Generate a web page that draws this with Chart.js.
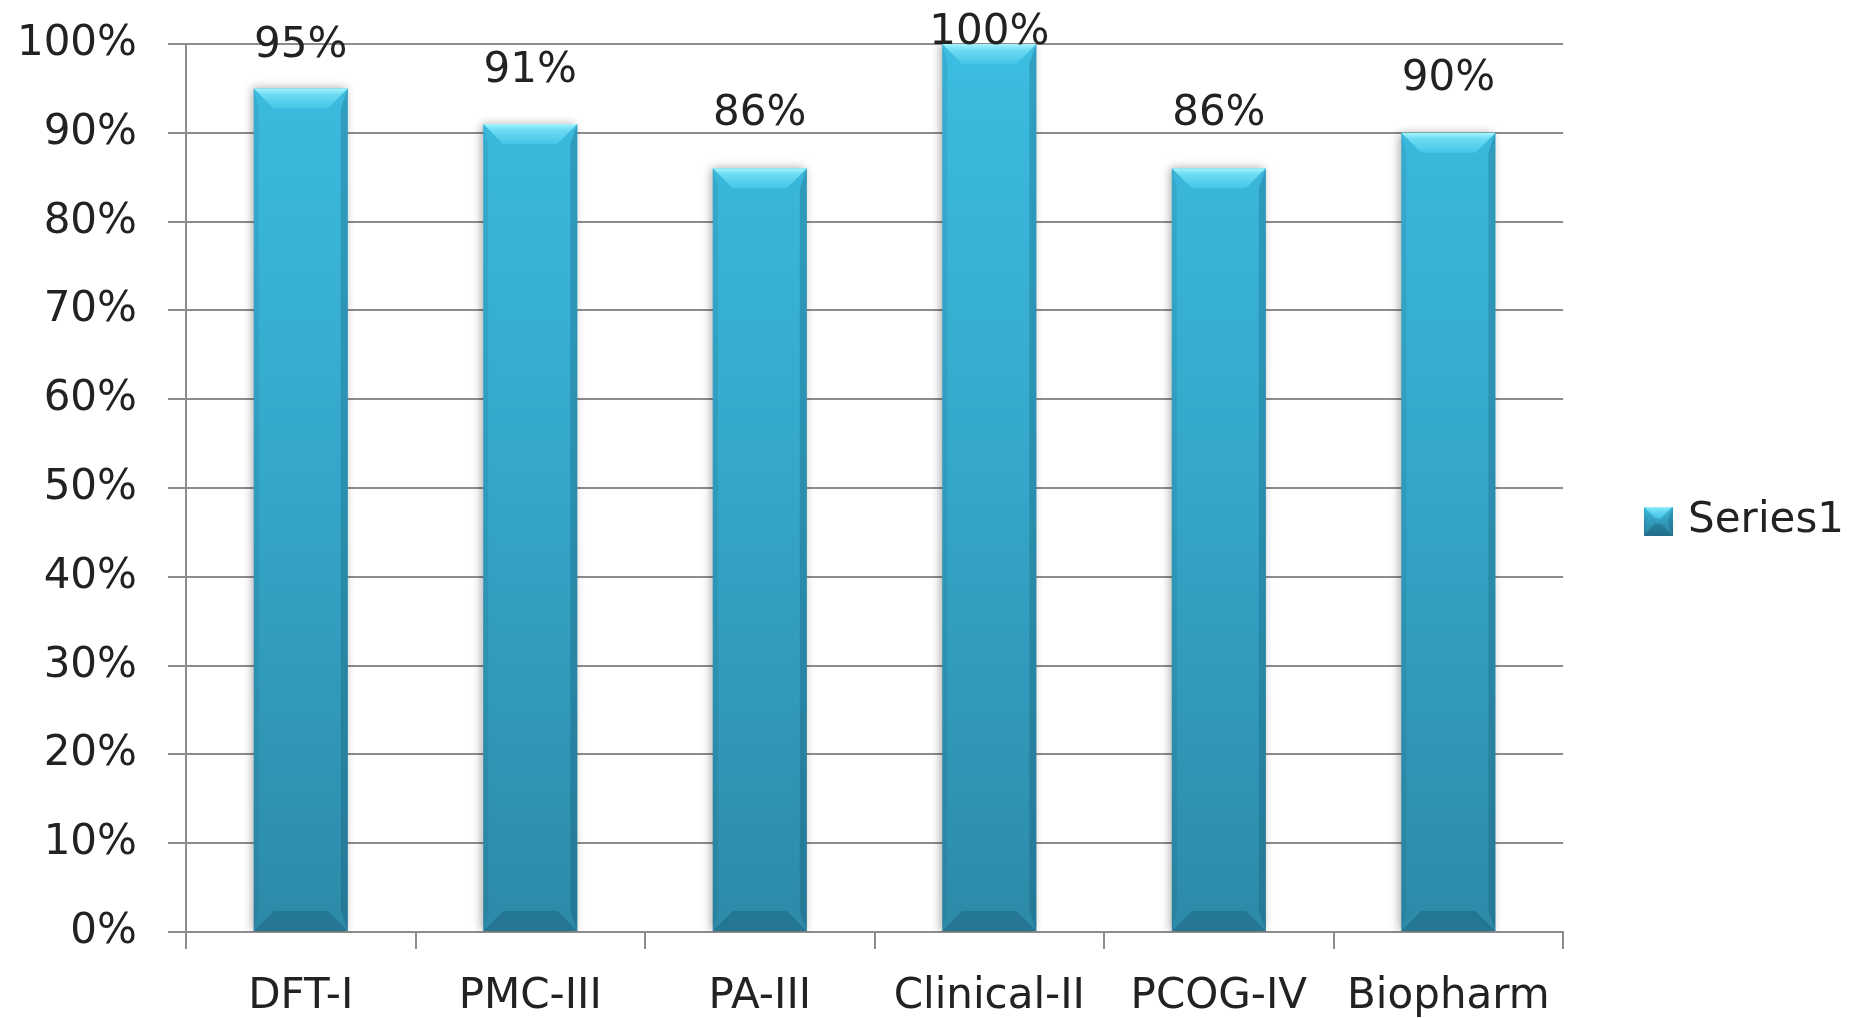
<!DOCTYPE html>
<html>
<head>
<meta charset="utf-8">
<title>Series1</title>
<script src="https://cdn.jsdelivr.net/npm/chart.js@4.4.1/dist/chart.umd.min.js"></script>
<style>
  html, body { margin: 0; padding: 0; background: #fff; }
  #wrap { width: 1856px; height: 1018px; }
</style>
</head>
<body>
<div id="wrap"><canvas id="myChart" width="1856" height="1018"></canvas></div>
<script>
  // chart data
  const categories = ['DFT-I', 'PMC-III', 'PA-III', 'Clinical-II', 'PCOG-IV', 'Biopharm'];
  const series1 = [95, 91, 86, 100, 86, 90];
  const yTicks = [0, 10, 20, 30, 40, 50, 60, 70, 80, 90, 100];

  const FONT = "'DejaVu Sans', sans-serif";
  const FONT_SIZE = 42;

  function barFill(context) {
    const chart = context.chart;
    const area = chart.chartArea;
    if (!area) return '#35a8cc';
    const g = chart.ctx.createLinearGradient(0, area.top, 0, area.bottom);
    g.addColorStop(0, '#3cbde1');
    g.addColorStop(0.5, '#34a6c9');
    g.addColorStop(1, '#2d8aa8');
    return g;
  }

  // draws the bevelled box shape, used for bars and the legend icon
  function bevel(ctx, l, t, r, b, bv) {
    ctx.fillStyle = 'rgba(10,60,80,0.22)';
    ctx.beginPath();
    ctx.moveTo(r, t); ctx.lineTo(r, b); ctx.lineTo(r - bv * 0.35, b - bv); ctx.lineTo(r - bv * 0.35, t + bv);
    ctx.closePath(); ctx.fill();
    ctx.fillStyle = 'rgba(10,60,80,0.10)';
    ctx.beginPath();
    ctx.moveTo(l, t); ctx.lineTo(l, b); ctx.lineTo(l + bv * 0.25, b - bv); ctx.lineTo(l + bv * 0.25, t + bv);
    ctx.closePath(); ctx.fill();

    const tg = ctx.createLinearGradient(0, t, 0, t + bv);
    tg.addColorStop(0, '#a6f4fd');
    tg.addColorStop(0.3, '#6ddcf3');
    tg.addColorStop(1, '#46c5e7');
    ctx.fillStyle = tg;
    ctx.beginPath();
    ctx.moveTo(l, t); ctx.lineTo(r, t); ctx.lineTo(r - bv, t + bv); ctx.lineTo(l + bv, t + bv);
    ctx.closePath(); ctx.fill();

    ctx.fillStyle = 'rgba(15,70,90,0.28)';
    ctx.beginPath();
    ctx.moveTo(l, b); ctx.lineTo(r, b); ctx.lineTo(r - bv, b - bv); ctx.lineTo(l + bv, b - bv);
    ctx.closePath(); ctx.fill();
  }

  // legend icon
  const icon = document.createElement('canvas');
  icon.width = 29; icon.height = 29;
  (function() {
    const c = icon.getContext('2d');
    const g = c.createLinearGradient(0, 0, 0, 29);
    g.addColorStop(0, '#3cbde1');
    g.addColorStop(1, '#2a7f9c');
    c.fillStyle = g;
    c.fillRect(0, 0, 29, 29);
    bevel(c, 0, 0, 29, 29, 12);
  })();

  // soft shadow under the bars
  const shadowPlugin = {
    id: 'barShadow',
    beforeDatasetsDraw(chart) {
      const ctx = chart.ctx;
      ctx.save();
      ctx.shadowColor = 'rgba(0,0,0,0.35)';
      ctx.shadowBlur = 9;
      ctx.shadowOffsetX = -2;
      ctx.shadowOffsetY = 0;
    },
    afterDatasetsDraw(chart) {
      chart.ctx.restore();
    }
  };

  // bevel on the bars + value labels above them
  const bevelPlugin = {
    id: 'bevelLabels',
    afterDatasetsDraw(chart) {
      const ctx = chart.ctx;
      const meta = chart.getDatasetMeta(0);
      ctx.save();
      meta.data.forEach((bar, i) => {
        const l = bar.x - bar.width / 2;
        const r = bar.x + bar.width / 2;
        bevel(ctx, l, bar.y, r, bar.base, 20);

        // labels sit above the bar, squeezed down near the top edge
        let y = bar.y - 58;
        if (y < 70) y = Math.max(70 - (70 - y) * 0.71, 29);
        ctx.fillStyle = '#222';
        ctx.font = FONT_SIZE + 'px ' + FONT;
        ctx.textAlign = 'center';
        ctx.textBaseline = 'middle';
        ctx.fillText(series1[i] + '%', bar.x, y + 4);
      });
      ctx.restore();
    }
  };

  const data = {
    labels: categories,
    datasets: [{
      label: 'Series1',
      data: series1,
      backgroundColor: barFill,
      borderWidth: 0,
      categoryPercentage: 1,
      barPercentage: 0.41
    }]
  };

  const config = {
    type: 'bar',
    data: data,
    options: {
      responsive: false,
      animation: false,
      events: [],
      layout: { padding: { top: 24, right: 2, bottom: 0, left: 0 } },
      plugins: {
        legend: {
          position: 'right',
          labels: {
            usePointStyle: true,
            pointStyle: icon,
            boxWidth: 18,
            boxHeight: 29,
            padding: 86,
            color: '#222',
            font: { family: FONT, size: FONT_SIZE }
          }
        },
        tooltip: { enabled: false }
      },
      scales: {
        x: {
          afterFit(axis) {
            axis.height = 86;
          },
          grid: {
            offset: true,
            drawOnChartArea: false,
            drawTicks: true,
            tickLength: 17,
            color: '#8c8c8c',
            lineWidth: 2
          },
          border: { color: '#8c8c8c', width: 2 },
          ticks: {
            color: '#222',
            padding: 27,
            maxRotation: 0,
            font: { family: FONT, size: FONT_SIZE, lineHeight: 1.0 }
          }
        },
        y: {
          min: 0,
          max: 100,
          afterBuildTicks(axis) {
            axis.ticks = yTicks.map(v => ({ value: v }));
          },
          afterFit(axis) {
            axis.width = 186;
            axis.paddingTop = 44;
            axis.paddingBottom = 0;
          },
          grid: {
            color: '#8c8c8c',
            lineWidth: 2,
            tickLength: 18
          },
          border: { color: '#8c8c8c', width: 2 },
          ticks: {
            color: '#222',
            padding: 31,
            font: { family: FONT, size: FONT_SIZE },
            callback: v => v + '%'
          }
        }
      }
    },
    plugins: [shadowPlugin, bevelPlugin]
  };

  window.onload = function() {
    const ctx = document.getElementById('myChart').getContext('2d');
    new Chart(ctx, config);
  };
</script>
</body>
</html>
